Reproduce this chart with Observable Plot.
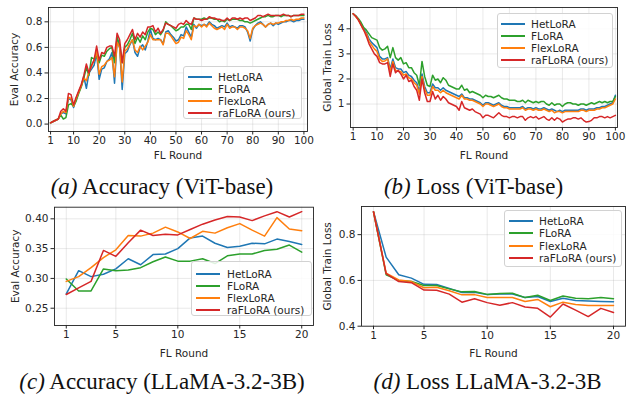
<!DOCTYPE html>
<html><head><meta charset="utf-8">
<script src="https://cdn.jsdelivr.net/npm/d3@7"></script>
<script src="https://cdn.jsdelivr.net/npm/@observablehq/plot@0.6"></script>
<style>
body{margin:0;background:#fff;}
#root{position:relative;width:626px;height:395px;overflow:hidden;background:#fff;}
.panel{position:absolute;}
.legend{position:absolute;border:1px solid #d2d2d2;border-radius:3px;background:rgba(255,255,255,0.85);font:10.5px "DejaVu Sans";color:#262626;box-sizing:border-box;}
.legend .row{position:absolute;left:0;height:0;white-space:nowrap;}
.legend .sw{position:absolute;height:2px;top:-1px;}
.legend .lb{position:absolute;top:-7px;line-height:14px;}
.caption{position:absolute;font-family:"Liberation Serif","Times New Roman",serif;font-size:23px;white-space:nowrap;line-height:1;transform:translateX(-50%);color:#111;}
</style>
</head><body>
<div id="root"></div>
<script>
// ---------------- data ----------------
const methods = ["HetLoRA", "FLoRA", "FlexLoRA", "raFLoRA (ours)"];
const methodColors = ["#1f77b4", "#2ca02c", "#ff7f0e", "#d62728"];

const roundsViT = d3.range(1, 101);
const roundsLlama = d3.range(1, 21);
const xTicksViT = [1, 10, 20, 30, 40, 50, 60, 70, 80, 90, 100];
const xTicksLlama = [1, 5, 10, 15, 20];
const yTicksAccViT = [0, 0.2, 0.4, 0.6, 0.8];
const yTicksLossViT = [1, 2, 3, 4];
const yTicksAccLlama = [0.25, 0.30, 0.35, 0.40];
const yTicksLossLlama = [0.4, 0.6, 0.8];

// (a) Eval accuracy, ViT-base
const accViT_HetLoRA = [
0.01,0.02,0.03,0.04,0.08,0.09,0.08,0.20,0.19,0.13,
0.20,0.25,0.30,0.37,0.28,0.40,0.43,0.46,0.55,0.35,
0.43,0.44,0.49,0.51,0.56,0.32,0.65,0.60,0.27,0.55,
0.57,0.62,0.66,0.56,0.53,0.60,0.62,0.58,0.65,0.74,
0.67,0.66,0.67,0.66,0.63,0.72,0.73,0.70,0.68,0.65,
0.66,0.70,0.69,0.76,0.72,0.68,0.78,0.75,0.78,0.77,
0.78,0.77,0.80,0.78,0.77,0.75,0.76,0.77,0.76,0.79,
0.76,0.77,0.76,0.75,0.77,0.77,0.76,0.72,0.65,0.74,
0.77,0.79,0.80,0.78,0.76,0.78,0.79,0.77,0.79,0.78,
0.79,0.80,0.80,0.81,0.81,0.80,0.81,0.81,0.82,0.82];
const accViT_FLoRA = [
0.01,0.02,0.03,0.04,0.07,0.04,0.05,0.15,0.16,0.14,
0.18,0.24,0.29,0.36,0.44,0.38,0.52,0.51,0.53,0.48,
0.54,0.53,0.57,0.59,0.60,0.48,0.68,0.62,0.48,0.60,
0.62,0.66,0.71,0.63,0.68,0.64,0.69,0.66,0.72,0.75,
0.74,0.70,0.72,0.70,0.73,0.80,0.78,0.77,0.75,0.73,
0.74,0.76,0.76,0.78,0.78,0.74,0.83,0.82,0.82,0.82,
0.83,0.82,0.83,0.83,0.82,0.82,0.80,0.81,0.80,0.82,
0.81,0.82,0.82,0.82,0.81,0.81,0.80,0.80,0.79,0.80,
0.81,0.82,0.83,0.84,0.84,0.85,0.84,0.84,0.85,0.85,
0.84,0.85,0.85,0.85,0.84,0.85,0.85,0.85,0.85,0.85];
const accViT_FlexLoRA = [
0.01,0.02,0.03,0.04,0.08,0.10,0.09,0.21,0.20,0.14,
0.20,0.25,0.30,0.36,0.34,0.41,0.45,0.50,0.57,0.39,
0.45,0.46,0.49,0.50,0.52,0.37,0.64,0.60,0.33,0.57,
0.59,0.63,0.66,0.58,0.56,0.61,0.58,0.61,0.64,0.70,
0.66,0.66,0.66,0.66,0.62,0.71,0.71,0.69,0.66,0.63,
0.64,0.68,0.67,0.73,0.70,0.66,0.77,0.76,0.78,0.76,
0.78,0.76,0.79,0.77,0.75,0.74,0.75,0.76,0.74,0.78,
0.75,0.76,0.76,0.74,0.76,0.76,0.75,0.73,0.67,0.75,
0.77,0.78,0.79,0.78,0.76,0.78,0.79,0.78,0.79,0.79,
0.80,0.80,0.81,0.81,0.82,0.81,0.82,0.82,0.83,0.83];
const accViT_raFLoRA = [
0.01,0.02,0.03,0.04,0.10,0.12,0.10,0.24,0.23,0.15,
0.21,0.26,0.31,0.38,0.47,0.40,0.46,0.50,0.61,0.50,
0.56,0.55,0.60,0.61,0.61,0.53,0.71,0.66,0.48,0.63,
0.66,0.70,0.74,0.66,0.71,0.68,0.72,0.70,0.76,0.76,
0.77,0.72,0.75,0.71,0.74,0.79,0.78,0.77,0.76,0.75,
0.78,0.79,0.78,0.81,0.79,0.78,0.83,0.82,0.82,0.81,
0.82,0.82,0.84,0.83,0.83,0.82,0.82,0.81,0.81,0.83,
0.81,0.83,0.83,0.82,0.83,0.82,0.83,0.83,0.81,0.82,
0.83,0.85,0.85,0.84,0.85,0.86,0.85,0.85,0.85,0.85,
0.85,0.86,0.85,0.85,0.84,0.85,0.85,0.85,0.86,0.86];

// (b) Global train loss, ViT-base
const lossViT_HetLoRA = [
4.60,4.50,4.37,4.20,4.00,3.85,3.60,3.45,3.35,3.25,
2.90,2.80,2.80,2.85,2.40,2.80,2.45,2.40,2.40,2.25,
2.30,2.15,2.10,1.95,1.85,1.50,2.20,1.70,1.45,1.45,
1.80,1.65,1.65,1.55,1.65,1.55,1.50,1.45,1.40,1.35,
1.30,1.40,1.25,1.25,1.20,1.20,1.15,1.10,1.05,0.95,
1.05,1.05,1.00,0.95,1.00,1.05,0.95,0.90,0.90,0.85,
0.85,0.85,0.85,0.85,0.90,0.80,0.85,0.85,0.80,0.85,
0.80,0.80,0.85,0.80,0.75,0.80,0.75,0.70,0.75,0.70,
0.75,0.75,0.75,0.75,0.75,0.75,0.80,0.80,0.75,0.80,
0.80,0.80,0.85,0.85,0.90,0.90,0.95,1.00,1.05,1.35];
const lossViT_FLoRA = [
4.60,4.52,4.40,4.25,4.05,3.95,3.80,3.65,3.60,3.55,
3.25,3.15,3.20,3.30,2.85,3.25,2.85,2.75,2.85,2.60,
2.65,2.45,2.45,2.25,2.15,1.75,2.70,2.10,1.75,1.70,
2.15,1.95,2.00,1.85,2.05,1.95,1.75,1.70,1.65,1.60,
1.60,1.75,1.55,1.60,1.45,1.50,1.45,1.40,1.35,1.25,
1.35,1.30,1.30,1.25,1.30,1.35,1.25,1.20,1.20,1.15,
1.15,1.15,1.10,1.10,1.15,1.05,1.15,1.10,1.05,1.10,
1.05,1.10,1.10,1.00,0.95,1.05,0.95,1.00,1.00,0.90,
1.00,1.05,1.05,1.00,1.00,0.95,1.00,1.00,0.95,1.00,
1.05,1.00,1.05,1.10,1.05,1.10,1.05,1.10,1.10,1.30];
const lossViT_FlexLoRA = [
4.60,4.48,4.35,4.15,3.95,3.80,3.50,3.35,3.20,3.10,
2.80,2.70,2.72,2.80,2.30,2.70,2.35,2.30,2.30,2.15,
2.20,2.05,2.00,1.85,1.75,1.40,2.10,1.60,1.35,1.35,
1.70,1.55,1.55,1.45,1.55,1.45,1.40,1.35,1.30,1.25,
1.20,1.35,1.20,1.20,1.15,1.15,1.10,1.05,1.00,0.90,
1.00,1.00,0.95,0.90,0.95,1.00,0.90,0.85,0.85,0.80,
0.80,0.80,0.80,0.80,0.85,0.75,0.80,0.80,0.75,0.80,
0.75,0.75,0.80,0.75,0.70,0.75,0.65,0.70,0.70,0.65,
0.70,0.70,0.70,0.70,0.70,0.70,0.75,0.75,0.70,0.75,
0.75,0.75,0.80,0.80,0.85,0.85,0.90,0.95,1.00,1.20];
const lossViT_raFLoRA = [
4.60,4.50,4.35,4.15,3.95,3.70,3.40,3.20,3.00,2.90,
2.65,2.60,2.60,2.65,2.10,2.60,2.25,2.35,2.20,2.00,
2.15,1.90,1.95,1.70,1.55,1.15,2.00,1.45,1.10,1.10,
1.50,1.20,1.35,1.15,1.30,1.20,1.05,1.00,0.95,0.90,
0.75,1.10,0.85,0.80,0.75,0.80,0.70,0.65,0.60,0.45,
0.55,0.55,0.50,0.45,0.55,0.65,0.55,0.50,0.50,0.45,
0.50,0.50,0.45,0.50,0.50,0.35,0.45,0.50,0.45,0.50,
0.40,0.45,0.50,0.40,0.35,0.45,0.35,0.45,0.40,0.28,
0.35,0.40,0.40,0.45,0.45,0.40,0.45,0.35,0.28,0.30,
0.35,0.45,0.45,0.50,0.50,0.45,0.50,0.45,0.50,0.55];

// (c) Eval accuracy, LLaMA-3.2-3B
const accLlama_HetLoRA  = [0.274,0.313,0.303,0.307,0.316,0.333,0.323,0.340,0.341,0.350,0.368,0.371,0.359,0.352,0.354,0.359,0.358,0.366,0.362,0.357];
const accLlama_FLoRA    = [0.299,0.279,0.279,0.316,0.313,0.314,0.318,0.328,0.336,0.329,0.329,0.333,0.325,0.338,0.341,0.341,0.347,0.349,0.356,0.344];
const accLlama_FlexLoRA = [0.295,0.303,0.318,0.335,0.348,0.372,0.371,0.376,0.386,0.378,0.367,0.379,0.376,0.385,0.392,0.381,0.371,0.402,0.383,0.380];
const accLlama_raFLoRA  = [0.273,0.284,0.295,0.347,0.337,0.360,0.381,0.372,0.374,0.373,0.382,0.391,0.398,0.404,0.403,0.397,0.405,0.412,0.403,0.412];

// (d) Global train loss, LLaMA-3.2-3B
const lossLlama_HetLoRA  = [0.900,0.702,0.625,0.610,0.583,0.582,0.565,0.547,0.548,0.538,0.541,0.541,0.525,0.530,0.508,0.522,0.512,0.510,0.508,0.507];
const lossLlama_FLoRA    = [0.900,0.625,0.600,0.595,0.578,0.578,0.563,0.550,0.552,0.539,0.543,0.544,0.525,0.535,0.512,0.532,0.522,0.520,0.525,0.520];
const lossLlama_FlexLoRA = [0.900,0.632,0.602,0.595,0.568,0.570,0.555,0.537,0.538,0.525,0.525,0.525,0.508,0.517,0.485,0.505,0.495,0.490,0.490,0.490];
const lossLlama_raFLoRA  = [0.900,0.630,0.595,0.590,0.558,0.557,0.540,0.505,0.520,0.503,0.492,0.503,0.484,0.478,0.440,0.497,0.470,0.442,0.478,0.460];

// ---------------- drawing ----------------
const root = document.getElementById("root");

function toRows(rounds, seriesList) {
  const rows = [];
  seriesList.forEach((vals, k) => vals.forEach((v, i) => rows.push({round: rounds[i], value: v, method: methods[k]})));
  return rows;
}

function panel(cfg) {
  const rows = toRows(cfg.rounds, cfg.series);
  const chart = Plot.plot({
    width: cfg.width, height: cfg.height,
    marginLeft: cfg.m[0], marginRight: cfg.m[1], marginTop: cfg.m[2], marginBottom: cfg.m[3],
    style: {fontFamily: "DejaVu Sans", fontSize: "10.5px", color: "#262626", background: "transparent", overflow: "visible"},
    x: {domain: cfg.xDomain},
    y: {domain: cfg.yDomain},
    color: {domain: methods, range: methodColors},
    marks: [
      Plot.gridX(cfg.xTicks, {stroke: "#b0b0b0", strokeOpacity: 0.35, strokeWidth: 0.8}),
      Plot.gridY(cfg.yTicks, {stroke: "#b0b0b0", strokeOpacity: 0.35, strokeWidth: 0.8}),
      Plot.line(rows, {x: "round", y: "value", z: "method", stroke: "method", strokeWidth: 1.5}),
      Plot.frame({stroke: "#222", strokeWidth: 0.9}),
      Plot.axisX(cfg.xTicks, {tickSize: 3.5, tickPadding: 2, tickFormat: d => String(d),
        label: "FL Round", labelAnchor: "center", labelArrow: "none", labelOffset: cfg.xLabelOffset}),
      Plot.axisY(cfg.yTicks, {tickSize: 3.5, tickPadding: 2.5, tickFormat: cfg.yFormat,
        label: cfg.yLabel, labelAnchor: "center", labelArrow: "none", labelOffset: cfg.yLabelOffset})
    ]
  });
  chart.classList.add("panel");
  chart.style.left = cfg.left + "px";
  chart.style.top = cfg.top + "px";
  root.appendChild(chart);

  const L = cfg.legend;
  const box = document.createElement("div");
  box.className = "legend";
  Object.assign(box.style, {left: L.x + "px", top: L.y + "px", width: L.w + "px", height: L.h + "px"});
  methods.forEach((name, k) => {
    const row = document.createElement("div");
    row.className = "row";
    row.style.top = Math.round(L.first + k * L.step) + "px";
    const sw = document.createElement("div");
    sw.className = "sw";
    Object.assign(sw.style, {left: L.lx + "px", width: L.lw + "px", background: methodColors[k]});
    const lb = document.createElement("div");
    lb.className = "lb";
    lb.style.left = L.tx + "px";
    lb.textContent = name;
    row.appendChild(sw); row.appendChild(lb);
    box.appendChild(row);
  });
  root.appendChild(box);
}

panel({
  left: 0, top: 0, width: 315, height: 165, m: [48, 8, 7, 34],
  rounds: roundsViT, series: [accViT_HetLoRA, accViT_FLoRA, accViT_FlexLoRA, accViT_raFLoRA],
  xDomain: [0.2, 101.4], yDomain: [-0.058, 0.912], xTicks: xTicksViT, yTicks: yTicksAccViT,
  yFormat: d3.format(".1f"), yLabel: "Eval Accuracy", yLabelOffset: 38, xLabelOffset: 27.5,
  legend: {x: 183, y: 66, w: 119, h: 53, first: 9.5, step: 12.3, lx: 4, lw: 24, tx: 34}
});
panel({
  left: 315, top: 0, width: 311, height: 165, m: [35, 9, 7, 38],
  rounds: roundsViT, series: [lossViT_HetLoRA, lossViT_FLoRA, lossViT_FlexLoRA, lossViT_raFLoRA],
  xDomain: [0, 100.8], yDomain: [0.064, 4.85], xTicks: xTicksViT, yTicks: yTicksLossViT,
  yFormat: d3.format("d"), yLabel: "Global Train Loss", yLabelOffset: 27, xLabelOffset: 31.5,
  legend: {x: 497, y: 13, w: 116, h: 55, first: 9.5, step: 12.3, lx: 3, lw: 24, tx: 33}
});
panel({
  left: 0, top: 195, width: 315, height: 165, m: [54, 2, 11.7, 35],
  rounds: roundsLlama, series: [accLlama_HetLoRA, accLlama_FLoRA, accLlama_FlexLoRA, accLlama_raFLoRA],
  xDomain: [0.05, 20.95], yDomain: [0.221, 0.4195], xTicks: xTicksLlama, yTicks: yTicksAccLlama,
  yFormat: d3.format(".2f"), yLabel: "Eval Accuracy", yLabelOffset: 43, xLabelOffset: 31.5,
  legend: {x: 191, y: 261, w: 121, h: 55, first: 11.5, step: 12.3, lx: 4, lw: 24, tx: 35}
});
panel({
  left: 315, top: 195, width: 311, height: 165, m: [46, 1, 11, 34.3],
  rounds: roundsLlama, series: [lossLlama_HetLoRA, lossLlama_FLoRA, lossLlama_FlexLoRA, lossLlama_raFLoRA],
  xDomain: [0.05, 20.95], yDomain: [0.4, 0.923], xTicks: xTicksLlama, yTicks: yTicksLossLlama,
  yFormat: d3.format(".1f"), yLabel: "Global Train Loss", yLabelOffset: 38, xLabelOffset: 31,
  legend: {x: 504, y: 210, w: 118, h: 57, first: 10, step: 12.4, lx: 4, lw: 24, tx: 34}
});

// captions
const captions = [
  {cx: 162, top: 174.7, tag: "(a)", text: " Accuracy (ViT-base)"},
  {cx: 473.5, top: 174.7, tag: "(b)", text: " Loss (ViT-base)"},
  {cx: 162, top: 370, tag: "(c)", text: " Accuracy (LLaMA-3.2-3B)"},
  {cx: 487.5, top: 370, tag: "(d)", text: " Loss LLaMA-3.2-3B"}
];
captions.forEach(c => {
  const d = document.createElement("div");
  d.className = "caption";
  d.style.left = c.cx + "px";
  d.style.top = c.top + "px";
  const i = document.createElement("i");
  i.textContent = c.tag;
  d.appendChild(i);
  d.appendChild(document.createTextNode(c.text));
  root.appendChild(d);
});
</script>
</body></html>
